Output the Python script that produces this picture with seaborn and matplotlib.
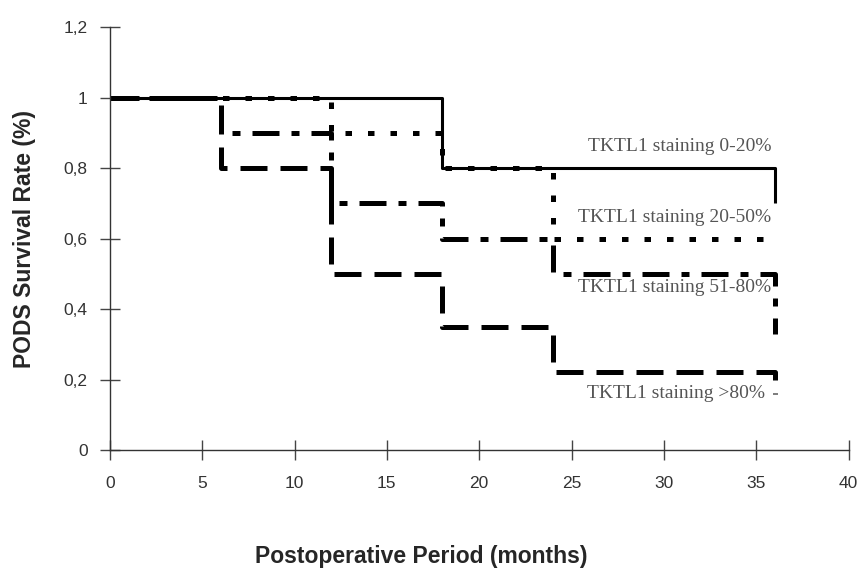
import matplotlib
matplotlib.use("Agg")
import matplotlib.pyplot as plt
import seaborn as sns
import pandas as pd

# Kaplan-Meier style step data (months, survival fraction)
t_0_20 = [0, 18, 36, 36]
s_0_20 = [1.0, 0.8, 0.8, 0.7]

t_20_50 = [0, 12, 18, 24, 36]
s_20_50 = [1.0, 0.9, 0.8, 0.6, 0.6]

t_51_80 = [0, 6, 12, 18, 24, 36, 36]
s_51_80 = [1.0, 0.9, 0.7, 0.6, 0.5, 0.5, 0.33]

t_80 = [0, 6, 12, 18, 24, 36, 36]
s_80 = [1.0, 0.8, 0.5, 0.35, 0.22, 0.22, 0.16]

group_labels = ["TKTL1 staining 0-20%", "TKTL1 staining 20-50%",
                "TKTL1 staining 51-80%", "TKTL1 staining >80%"]
label_pos = [(35.8, 0.86), (35.8, 0.66), (35.8, 0.46), (35.5, 0.16)]

x_ticks = [0, 5, 10, 15, 20, 25, 30, 35, 40]
y_ticks = [0, 0.2, 0.4, 0.6, 0.8, 1.0, 1.2]
y_tick_labels = ["0", "0,2", "0,4", "0,6", "0,8", "1", "1,2"]

sns.set_style("ticks")
plt.rcParams["font.family"] = ["Liberation Sans", "DejaVu Sans"]

fig = plt.figure(figsize=(8.65, 5.7), dpi=100)
ax = fig.add_axes([0.127, 0.2105, 0.854, 0.742])

series = [
    (t_0_20, s_0_20, dict(linestyle="-", linewidth=2.2)),
    (t_20_50, s_20_50, dict(linestyle=(0, (1.3, 3.2)), linewidth=3.6)),
    (t_51_80, s_51_80, dict(linestyle=(0, (5.4, 2.4, 1.6, 2.4)), linewidth=3.6)),
    (t_80, s_80, dict(linestyle=(0, (5.4, 2.6)), linewidth=3.6)),
]
for t, s, style in series:
    df = pd.DataFrame({"month": t, "surv": s})
    sns.lineplot(data=df, x="month", y="surv", ax=ax, estimator=None, sort=False,
                 drawstyle="steps-post", color="black", solid_capstyle="butt",
                 dash_capstyle="butt", clip_on=False, **style)

for lab, (x, y) in zip(group_labels, label_pos):
    ax.text(x, y, lab, ha="right", va="center", fontsize=14, color="#555555",
            family=["Liberation Serif", "DejaVu Serif"])

ax.set_xlim(0, 40)
ax.set_ylim(0, 1.2)
ax.set_xticks(x_ticks)
ax.set_yticks(y_ticks)
ax.set_yticklabels(y_tick_labels)
ax.tick_params(direction="inout", length=14, width=1, color="#444444",
               labelsize=12.5, labelcolor="#333333")
ax.tick_params(axis="x", pad=12)
ax.tick_params(axis="y", pad=9)

sns.despine(ax=ax)
for side in ["left", "bottom"]:
    ax.spines[side].set_color("#333333")
    ax.spines[side].set_linewidth(1)

ax.set_xlabel("Postoperative Period (months)", fontsize=16.5, fontweight="bold", va="center")
ax.set_ylabel("PODS Survival Rate (%)", fontsize=16.5, fontweight="bold", va="center")
ax.xaxis.set_label_coords(0.422, -0.252)
ax.yaxis.set_label_coords(-0.116, 0.5)

fig.savefig("out.png", dpi=100)
